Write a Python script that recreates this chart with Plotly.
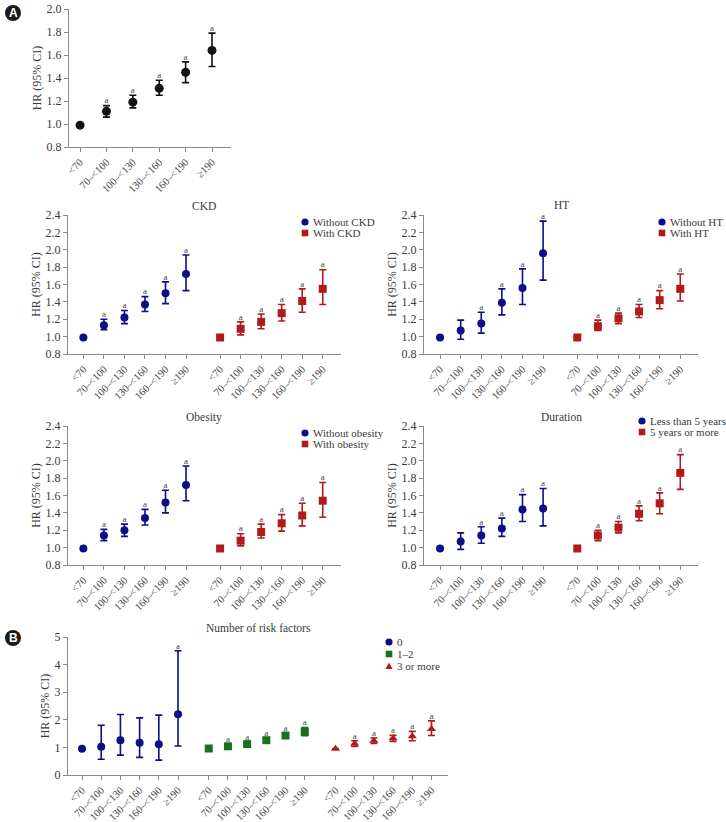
import plotly.graph_objects as go

W, H = 726, 822
FONT = "Liberation Serif"
NAVY = "#0d0d8a"
RED = "#b01a1a"
GREEN = "#17701c"
BLACK = "#111111"
AXC = "#8a8a8a"
TXT = "#3a3a3a"

categories = ["<70", "70\u2013<100", "100\u2013<130", "130\u2013<160", "160\u2013<190", "\u2265190"]

# Panel A (overall)
a_hr = [0.99, 1.11, 1.19, 1.31, 1.45, 1.64]
a_lo = [None, 1.06, 1.14, 1.25, 1.36, 1.50]
a_hi = [None, 1.16, 1.25, 1.38, 1.54, 1.79]
a_sig = [0, 1, 1, 1, 1, 1]

# CKD
ckd_no_hr = [0.99, 1.13, 1.22, 1.37, 1.50, 1.72]
ckd_no_lo = [None, 1.08, 1.15, 1.29, 1.38, 1.53]
ckd_no_hi = [None, 1.20, 1.30, 1.46, 1.63, 1.94]
ckd_no_sig = [0, 1, 1, 1, 1, 1]
ckd_yes_hr = [0.99, 1.09, 1.17, 1.27, 1.41, 1.55]
ckd_yes_lo = [None, 1.02, 1.09, 1.18, 1.28, 1.37]
ckd_yes_hi = [None, 1.17, 1.26, 1.37, 1.55, 1.77]
ckd_yes_sig = [0, 1, 1, 1, 1, 1]

# HT
ht_no_hr = [0.99, 1.07, 1.15, 1.39, 1.56, 1.96]
ht_no_lo = [None, 0.97, 1.04, 1.25, 1.37, 1.65]
ht_no_hi = [None, 1.19, 1.28, 1.55, 1.78, 2.33]
ht_no_sig = [0, 0, 1, 1, 1, 1]
ht_yes_hr = [0.99, 1.12, 1.21, 1.29, 1.42, 1.55]
ht_yes_lo = [None, 1.07, 1.15, 1.22, 1.32, 1.41]
ht_yes_hi = [None, 1.19, 1.27, 1.37, 1.53, 1.72]
ht_yes_sig = [0, 1, 1, 1, 1, 1]

# Obesity
ob_no_hr = [0.99, 1.14, 1.20, 1.34, 1.52, 1.72]
ob_no_lo = [None, 1.08, 1.13, 1.26, 1.40, 1.54]
ob_no_hi = [None, 1.21, 1.27, 1.44, 1.66, 1.94]
ob_no_sig = [0, 1, 1, 1, 1, 1]
ob_yes_hr = [0.99, 1.08, 1.18, 1.28, 1.37, 1.54]
ob_yes_lo = [None, 1.02, 1.11, 1.19, 1.25, 1.35]
ob_yes_hi = [None, 1.16, 1.27, 1.38, 1.51, 1.75]
ob_yes_sig = [0, 1, 1, 1, 1, 1]

# Duration
du_lt5_hr = [0.99, 1.07, 1.14, 1.22, 1.44, 1.45]
du_lt5_lo = [None, 0.98, 1.05, 1.13, 1.30, 1.25]
du_lt5_hi = [None, 1.17, 1.24, 1.34, 1.61, 1.68]
du_lt5_sig = [0, 0, 1, 1, 1, 1]
du_ge5_hr = [0.99, 1.14, 1.23, 1.39, 1.51, 1.86]
du_ge5_lo = [None, 1.08, 1.17, 1.31, 1.39, 1.67]
du_ge5_hi = [None, 1.20, 1.30, 1.48, 1.63, 2.07]
du_ge5_sig = [0, 1, 1, 1, 1, 1]

# Panel B: number of risk factors
rf0_hr = [0.95, 1.02, 1.26, 1.17, 1.11, 2.20]
rf0_lo = [None, 0.57, 0.72, 0.64, 0.54, 1.05]
rf0_hi = [None, 1.80, 2.19, 2.07, 2.17, 4.50]
rf0_sig = [0, 0, 0, 0, 0, 1]
rf12_hr = [0.96, 1.04, 1.12, 1.26, 1.43, 1.56]
rf12_lo = [None, 0.98, 1.06, 1.19, 1.35, 1.42]
rf12_hi = [None, 1.10, 1.18, 1.33, 1.52, 1.72]
rf12_sig = [0, 1, 1, 1, 1, 1]
rf3_hr = [0.95, 1.13, 1.24, 1.33, 1.40, 1.67]
rf3_lo = [None, 1.03, 1.14, 1.22, 1.24, 1.43]
rf3_hi = [None, 1.24, 1.34, 1.44, 1.58, 1.96]
rf3_sig = [0, 1, 1, 1, 1, 1]

fig = go.Figure()


def px_x(p):
    return p / W


def px_y(p):
    return 1 - p / H


def add_series(xa, ya, offset, hr, lo, hi, sig, color, symbol, size=8):
    xs = [offset + i for i in range(len(hr))]
    plus = [None if h is None else h - v for h, v in zip(hi, hr)]
    minus = [None if l is None else v - l for l, v in zip(lo, hr)]
    fig.add_trace(go.Scatter(
        x=xs, y=hr, mode="markers", xaxis=xa, yaxis=ya,
        marker=dict(color=color, symbol=symbol, size=size, line=dict(width=0)),
        error_y=dict(type="data", array=plus, arrayminus=minus, symmetric=False,
                     color=color, thickness=1.6, width=3.5),
        showlegend=False,
    ))
    ax = [x for x, s in zip(xs, sig) if s]
    ay = [h for h, s in zip(hi, sig) if s]
    fig.add_trace(go.Scatter(
        x=ax, y=ay, mode="text", text=["a"] * len(ax), textposition="top center",
        textfont=dict(family=FONT, size=9, color="#444444"), xaxis=xa, yaxis=ya,
        showlegend=False, hoverinfo="skip",
    ))


def setup_axes(n, xl, xr, yt, yb, xrange, yrange, dtick, tickvals):
    xk = "xaxis" if n == 1 else f"xaxis{n}"
    yk = "yaxis" if n == 1 else f"yaxis{n}"
    ref = "" if n == 1 else str(n)
    fig.layout[xk] = dict(
        domain=[px_x(xl), px_x(xr)], anchor="y" + ref, range=xrange,
        tickmode="array", tickvals=tickvals,
        ticktext=categories * (len(tickvals) // len(categories)),
        tickangle=-45, showline=True, linecolor=AXC, linewidth=1,
        ticks="outside", ticklen=4, tickcolor=AXC, showgrid=False, zeroline=False,
        tickfont=dict(family=FONT, size=10.5, color=TXT), automargin=False,
    )
    fig.layout[yk] = dict(
        domain=[px_y(yb), px_y(yt)], anchor="x" + ref, range=yrange, dtick=dtick,
        tick0=0, showline=True, linecolor=AXC, linewidth=1, ticks="outside",
        ticklen=4, tickcolor=AXC, showgrid=False, zeroline=False,
        tickformat=".1f" if dtick < 1 else "d",
        tickfont=dict(family=FONT, size=12, color=TXT), automargin=False,
        title=dict(text="HR (95% CI)", font=dict(family=FONT, size=12, color=TXT), standoff=2),
    )


G = 6.66
pos2 = [i for i in range(6)] + [G + i for i in range(6)]

# Panel A
setup_axes(1, 69, 231, 9, 147, [-0.42, 5.72], [0.8, 2.0], 0.2, list(range(6)))
add_series("x", "y", 0, a_hr, a_lo, a_hi, a_sig, BLACK, "circle", size=9)

# CKD
setup_axes(2, 68, 341, 215, 354, [-0.75, 12.55], [0.8, 2.4], 0.2, pos2)
add_series("x2", "y2", 0, ckd_no_hr, ckd_no_lo, ckd_no_hi, ckd_no_sig, NAVY, "circle")
add_series("x2", "y2", G, ckd_yes_hr, ckd_yes_lo, ckd_yes_hi, ckd_yes_sig, RED, "square")

# HT
setup_axes(3, 424, 698, 215, 354, [-0.78, 12.52], [0.8, 2.4], 0.2, pos2)
add_series("x3", "y3", 0, ht_no_hr, ht_no_lo, ht_no_hi, ht_no_sig, NAVY, "circle")
add_series("x3", "y3", G, ht_yes_hr, ht_yes_lo, ht_yes_hi, ht_yes_sig, RED, "square")

# Obesity
setup_axes(4, 68, 341, 426, 565, [-0.75, 12.55], [0.8, 2.4], 0.2, pos2)
add_series("x4", "y4", 0, ob_no_hr, ob_no_lo, ob_no_hi, ob_no_sig, NAVY, "circle")
add_series("x4", "y4", G, ob_yes_hr, ob_yes_lo, ob_yes_hi, ob_yes_sig, RED, "square")

# Duration
setup_axes(5, 424, 698, 426, 565, [-0.78, 12.52], [0.8, 2.4], 0.2, pos2)
add_series("x5", "y5", 0, du_lt5_hr, du_lt5_lo, du_lt5_hi, du_lt5_sig, NAVY, "circle")
add_series("x5", "y5", G, du_ge5_hr, du_ge5_lo, du_ge5_hi, du_ge5_sig, RED, "square")

# Panel B
GB = 6.6
pos3 = [i for i in range(6)] + [GB + i for i in range(6)] + [2 * GB + i for i in range(6)]
setup_axes(6, 68, 448, 637, 775, [-0.73, 19.06], [0, 5], 1, pos3)
add_series("x6", "y6", 0, rf0_hr, rf0_lo, rf0_hi, rf0_sig, NAVY, "circle")
add_series("x6", "y6", GB, rf12_hr, rf12_lo, rf12_hi, rf12_sig, GREEN, "square")
add_series("x6", "y6", 2 * GB, rf3_hr, rf3_lo, rf3_hi, rf3_sig, RED, "triangle-up")


# Compact legends drawn as shapes + annotations
def legend_entry(mx, my, shape, color, label):
    r = 3.6
    if shape == "circle":
        fig.add_shape(type="circle", xref="paper", yref="paper",
                      x0=px_x(mx - r), x1=px_x(mx + r), y0=px_y(my + r), y1=px_y(my - r),
                      fillcolor=color, line=dict(width=0))
    elif shape == "square":
        fig.add_shape(type="rect", xref="paper", yref="paper",
                      x0=px_x(mx - r + 0.3), x1=px_x(mx + r - 0.3),
                      y0=px_y(my + r - 0.3), y1=px_y(my - r + 0.3),
                      fillcolor=color, line=dict(width=0))
    else:
        path = "M %f,%f L %f,%f L %f,%f Z" % (
            px_x(mx - r), px_y(my + r * 0.8), px_x(mx + r), px_y(my + r * 0.8),
            px_x(mx), px_y(my - r))
        fig.add_shape(type="path", xref="paper", yref="paper", path=path,
                      fillcolor=color, line=dict(width=0))
    fig.add_annotation(text=label, x=px_x(mx + 6), y=px_y(my), xref="paper", yref="paper",
                       showarrow=False, xanchor="left", yanchor="middle",
                       font=dict(family=FONT, size=11, color=TXT))


legend_entry(305, 222, "circle", NAVY, "Without CKD")
legend_entry(305, 233, "square", RED, "With CKD")
legend_entry(662, 222, "circle", NAVY, "Without HT")
legend_entry(662, 233, "square", RED, "With HT")
legend_entry(305, 433, "circle", NAVY, "Without obesity")
legend_entry(305, 444, "square", RED, "With obesity")
legend_entry(642, 421, "circle", NAVY, "Less than 5 years")
legend_entry(642, 432, "square", RED, "5 years or more")
legend_entry(389, 642, "circle", NAVY, "0")
legend_entry(389, 654, "square", GREEN, "1\u20132")
legend_entry(389, 666, "triangle", RED, "3 or more")

titles = [("CKD", 204, 206), ("HT", 561, 205), ("Obesity", 204, 417),
          ("Duration", 561, 417), ("Number of risk factors", 258, 628)]
for t, xp, yp in titles:
    fig.add_annotation(text=t, x=px_x(xp), y=px_y(yp), xref="paper", yref="paper",
                       showarrow=False, xanchor="center", yanchor="middle",
                       font=dict(family=FONT, size=11.5, color=TXT))

for lab, cy in [("A", 13), ("B", 638)]:
    fig.add_shape(type="circle", xref="paper", yref="paper",
                  x0=px_x(5), x1=px_x(21), y0=px_y(cy + 8), y1=px_y(cy - 8),
                  fillcolor="#1a1a1a", line=dict(width=0))
    fig.add_annotation(text="<b>%s</b>" % lab, x=px_x(13), y=px_y(cy), xref="paper",
                       yref="paper", showarrow=False, xanchor="center", yanchor="middle",
                       font=dict(family="Liberation Sans", size=12, color="white"))

fig.update_layout(
    width=W, height=H, margin=dict(l=0, r=0, t=0, b=0, autoexpand=False),
    paper_bgcolor="white", plot_bgcolor="white", autosize=False, showlegend=False,
    font=dict(family=FONT, color=TXT), hovermode=False,
)

fig.write_html("out.html", config={"displayModeBar": False},
               post_script="document.body.style.margin='0px';document.body.style.padding='0px';")
